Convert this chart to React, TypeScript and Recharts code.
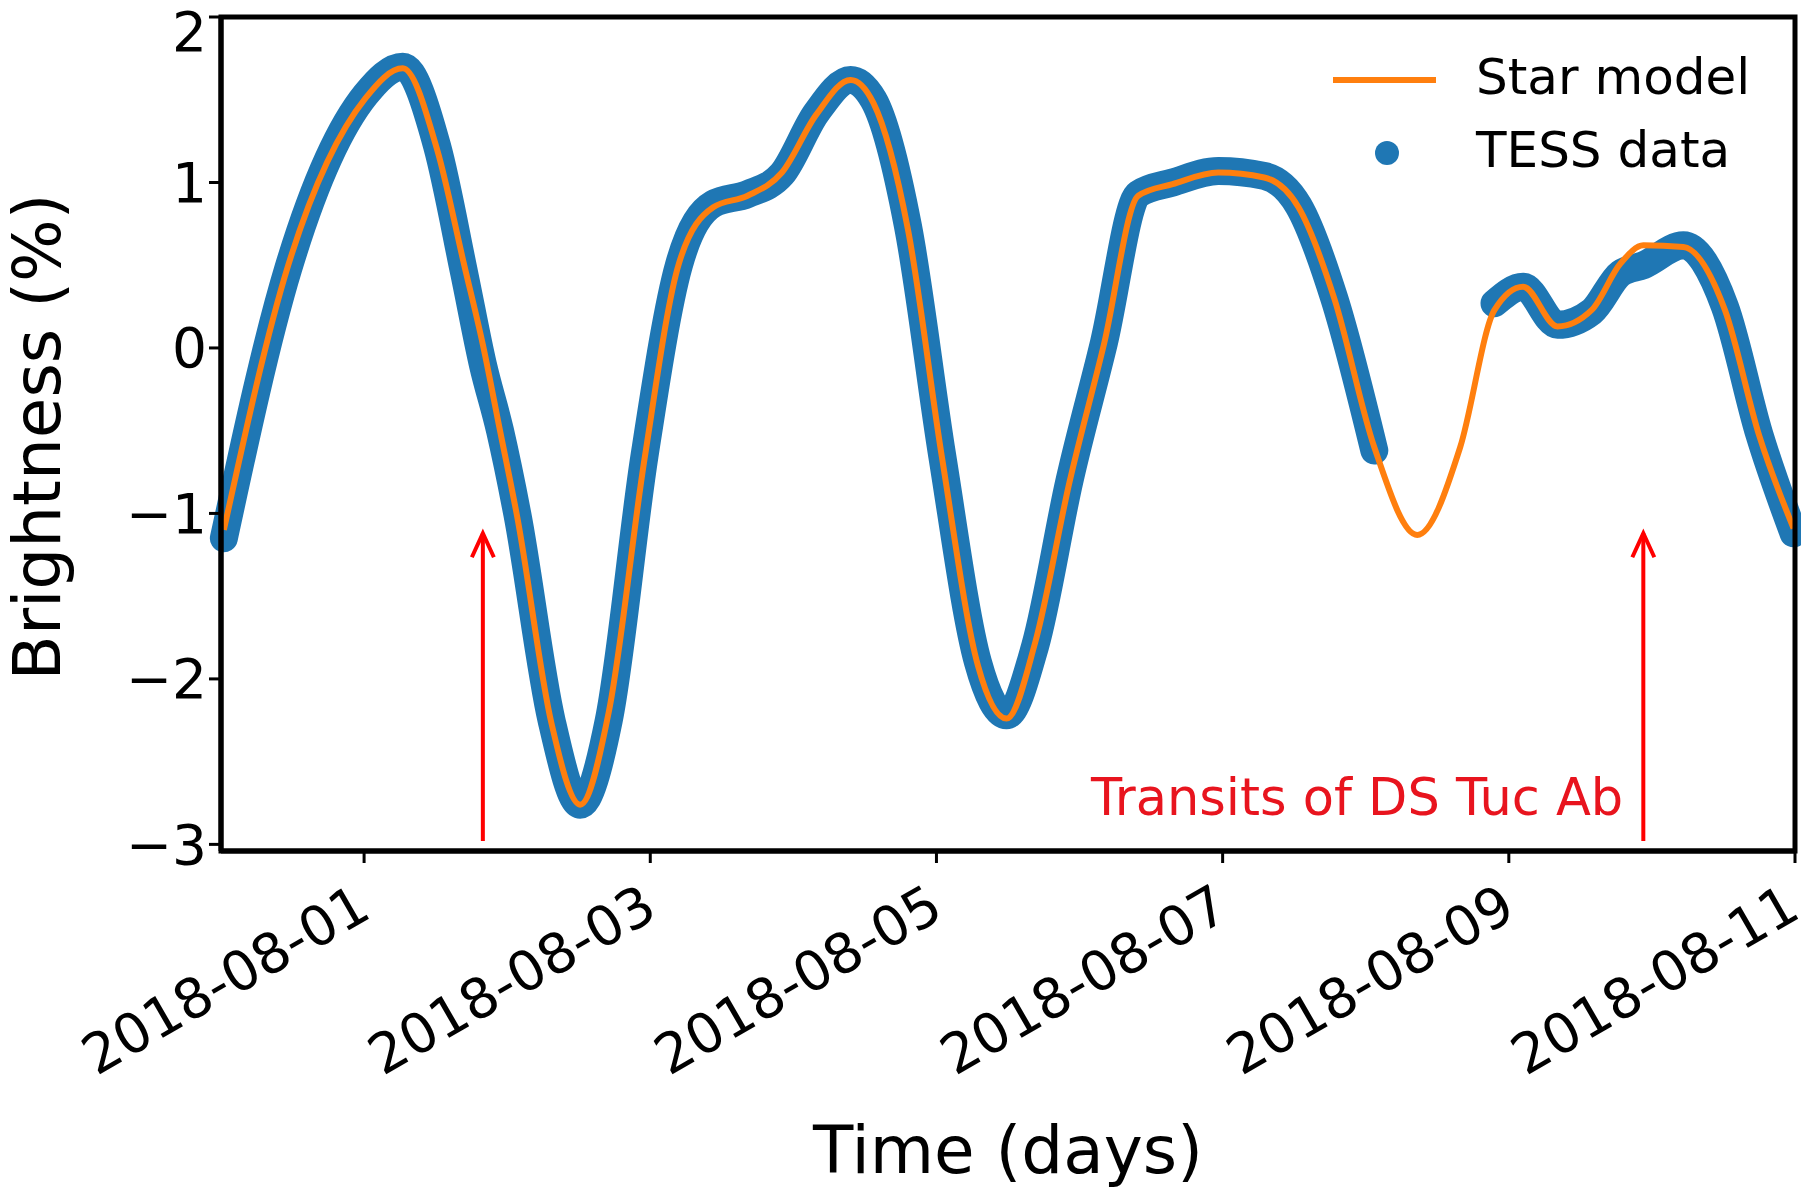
import { LineChart, Line, XAxis, YAxis, ReferenceDot } from 'recharts';

// time in days since 2018-07-31
const times = [0.02, 0.47, 1.01, 1.27, 1.51, 1.7, 1.83, 1.95, 2.07, 2.31, 2.51, 2.71, 2.96, 3.2, 3.44, 3.68, 3.92, 4.16, 4.4, 4.56, 4.8, 5.04, 5.29, 5.49, 5.69, 5.93, 6.17, 6.41, 6.65, 6.97, 7.29, 7.53, 7.78, 8.06, 8.36, 8.66, 8.9, 9.1, 9.34, 9.58, 9.78, 9.94, 10.22, 10.51, 10.75, 10.99];
const model = [-1.1, 0.5, 1.51, 1.69, 1.2, 0.5, 0.02, -0.5, -1.02, -2.27, -2.76, -2.2, -0.67, 0.51, 0.85, 0.92, 1.06, 1.41, 1.62, 1.48, 0.72, -0.67, -1.92, -2.24, -1.78, -0.81, 0.02, 0.92, 0.99, 1.06, 1.03, 0.85, 0.3, -0.6, -1.13, -0.6, 0.23, 0.37, 0.13, 0.23, 0.51, 0.62, 0.61, 0.23, -0.53, -1.09];
const tess = [-1.15, 0.48, 1.53, 1.7, 1.22, 0.45, -0.1, -0.5, -1.0, -2.25, -2.76, -2.25, -0.65, 0.5, 0.87, 0.93, 1.05, 1.42, 1.62, 1.5, 0.74, -0.65, -1.9, -2.22, -1.8, -0.8, 0.03, 0.93, 1.0, 1.07, 1.04, 0.86, 0.3, -0.62, null, null, 0.27, 0.37, 0.14, 0.22, 0.45, 0.5, 0.62, 0.25, -0.52, -1.12];
const xTicks = [1, 3, 5, 7, 9, 11];
const xLabels = ['2018-08-01', '2018-08-03', '2018-08-05', '2018-08-07', '2018-08-09', '2018-08-11'];
const yTicks = [-3, -2, -1, 0, 1, 2];
const transits = [1.83, 9.94];

const data = times.map((t, i) => ({ t, model: model[i], tess: tess[i] }));
const font = 'DejaVu Sans';
const pxPerUnit = (851 - 17) / 5.04;

const XTick = (p: any) => {
  const i = xTicks.indexOf(p.payload.value);
  const ax = p.x - 10;
  const ay = p.y + 18;
  return (
    <text x={ax} y={ay} textAnchor="end" fontSize={55} fontFamily={font} fill="#000"
      transform={`rotate(-30 ${ax} ${ay})`} dy="0.7em">{xLabels[i]}</text>
  );
};

const fmtY = (v: number) => (v < 0 ? '\u2212' + Math.abs(v) : String(v));

export default function App() {
  return (
    <div style={{ position: 'absolute', left: 0, top: 0, width: 1801, height: 1187, background: '#fff' }}>
      <LineChart width={1801} height={1187} data={data} margin={{ top: 17, right: 6, left: 0, bottom: 0 }}>
        <XAxis dataKey="t" type="number" domain={[0, 11]} ticks={xTicks} tick={<XTick />} height={336}
          axisLine={{ stroke: '#000', strokeWidth: 5 }} tickLine={{ stroke: '#000', strokeWidth: 3 }} tickSize={12}
          label={{ value: 'Time (days)', position: 'insideBottom', offset: 14, fontSize: 66, fontFamily: font, fill: '#000' }} />
        <YAxis type="number" domain={[-3.04, 2]} ticks={yTicks} width={221} tickFormatter={fmtY}
          tick={{ fontSize: 55, fontFamily: font, fill: '#000' }} tickSize={12}
          axisLine={{ stroke: '#000', strokeWidth: 5 }} tickLine={{ stroke: '#000', strokeWidth: 3 }} />
        <Line dataKey="tess" type="monotone" stroke="#1f77b4" strokeWidth={28} strokeLinecap="round" dot={false} isAnimationActive={false} />
        <Line dataKey="model" type="monotone" stroke="#ff7f0e" strokeWidth={6} dot={false} isAnimationActive={false} connectNulls />
        {transits.map((x) => (
          <ReferenceDot key={x} x={x} y={-1.12} r={0} isFront
            shape={(p: any) => {
              const bottom = p.cy + pxPerUnit * 1.86;
              return (
                <g stroke="#ff0000" strokeWidth={4} fill="none">
                  <line x1={p.cx} y1={p.cy} x2={p.cx} y2={bottom} />
                  <polyline points={`${p.cx - 11},${p.cy + 24} ${p.cx},${p.cy} ${p.cx + 11},${p.cy + 24}`} />
                </g>
              );
            }} />
        ))}
        <ReferenceDot x={7.94} y={-2.74} r={0} isFront
          shape={(p: any) => (
            <text x={p.cx} y={p.cy} textAnchor="middle" dominantBaseline="middle" fontSize={51} fontFamily={font} fill="#e8141e">Transits of DS Tuc Ab</text>
          )} />
      </LineChart>
      <svg style={{ position: 'absolute', left: 0, top: 0 }} width={1801} height={1187}>
        <rect x={221} y={17} width={1795 - 221} height={851 - 17} fill="none" stroke="#000" strokeWidth={5} />
        <text x={0} y={0} transform="translate(42 437) rotate(-90)" textAnchor="middle" dominantBaseline="middle" fontSize={66} fontFamily={font}>Brightness (%)</text>
        <line x1={1333} y1={80} x2={1436} y2={80} stroke="#ff7f0e" strokeWidth={6} />
        <text x={1476} y={80} dominantBaseline="middle" fontSize={50} fontFamily={font}>Star model</text>
        <circle cx={1387} cy={153} r={12} fill="#1f77b4" />
        <text x={1476} y={153} dominantBaseline="middle" fontSize={50} fontFamily={font}>TESS data</text>
      </svg>
    </div>
  );
}
